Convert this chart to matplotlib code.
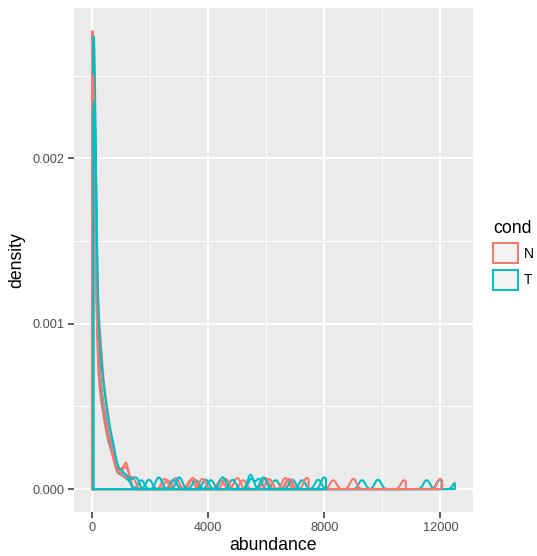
import numpy as np
import matplotlib.pyplot as plt
from matplotlib.patches import Patch

plt.rcParams['font.family'] = ['Liberation Sans', 'DejaVu Sans']

# abundance bins for the bulk of each sample and how many observations fall in each
N_bins = [0, 15, 35, 70, 110, 150, 190, 230, 270, 310, 350, 400, 450, 500, 550, 600, 660, 720, 790, 860, 940, 1020, 1120, 1250]
T_bins = [40, 55, 75, 110, 150, 190, 230, 270, 310, 350, 390, 440, 490, 540, 590, 640, 700, 760, 830, 900, 980, 1060, 1160, 1280]

N1_count = [53, 12, 8, 4, 4, 4, 4, 4, 3, 3, 3, 3, 3, 2, 2, 2, 2, 2, 1, 1, 1, 1, 1, 1]
N2_count = [17, 10, 8, 6, 6, 5, 5, 5, 4, 4, 4, 3, 3, 3, 3, 2, 2, 2, 1, 1, 1, 1, 1, 1]
N3_count = [36, 12, 8, 4, 4, 4, 4, 4, 3, 3, 3, 3, 3, 2, 2, 2, 2, 2, 1, 1, 1, 1, 1, 1]
T1_count = [52, 12, 8, 4, 4, 4, 4, 4, 3, 3, 3, 3, 3, 2, 2, 2, 2, 2, 1, 1, 1, 1, 1, 1]
T2_count = [42, 12, 8, 4, 4, 4, 4, 4, 3, 3, 3, 3, 3, 2, 2, 2, 2, 2, 1, 1, 1, 1, 1, 1]
T3_count = [24, 12, 8, 4, 4, 4, 4, 4, 3, 3, 3, 3, 3, 2, 2, 2, 2, 2, 1, 1, 1, 1, 1, 1]

# sparse high-abundance observations
N1_tail = [1150, 1150, 1200, 2540, 2660, 3340, 3460, 4370, 4490, 5140, 5260, 6700, 6820, 8250, 8370, 10690, 10810]
N2_tail = [1100, 1250, 2820, 2940, 3410, 3530, 4940, 5060, 5910, 6030, 6600, 6720, 7340, 7460]
N3_tail = [1340, 1460, 2440, 2560, 3740, 3860, 4540, 4660, 6040, 6160, 6740, 6860, 8940, 9060, 11940, 12060]
T1_tail = [1630, 1750, 3510, 3630, 4030, 4150, 5400, 5460, 5530, 6260, 6380, 7180, 7300, 9240, 9360, 11470, 11590, 12500]
T2_tail = [1900, 2020, 2740, 2860, 3850, 3970, 4780, 4900, 5430, 5530, 5700, 5800, 6840, 6960, 7730, 7850, 9790, 9910, 11920, 12040]
T3_tail = [1440, 1560, 2240, 2360, 2940, 3060, 4440, 4560, 5840, 5960, 7940, 8060]

samples = [('N', N_bins, N1_count, N1_tail), ('T', T_bins, T1_count, T1_tail),
           ('N', N_bins, N2_count, N2_tail), ('T', T_bins, T2_count, T2_tail),
           ('N', N_bins, N3_count, N3_tail), ('T', T_bins, T3_count, T3_tail)]
conds = ['N', 'T']
colors = {'N': '#F8766D', 'T': '#00BFC4'}
BW = 80  # kernel bandwidth

def kde(values, bw, npts=1024):
    grid = np.linspace(values.min(), values.max(), npts)
    z = (grid[:, None] - values[None, :]) / bw
    d = np.exp(-0.5 * z**2).sum(axis=1) / (len(values) * bw * np.sqrt(2 * np.pi))
    return grid, d

fig = plt.figure(figsize=(5.37, 5.56), dpi=100)
ax = fig.add_axes([74/537, 1 - 512/556, 399/537, 504/556])
ax.set_facecolor('#EBEBEB')

xmin, xmax, ymax = np.inf, -np.inf, 0
for cond, bins, cnt, tail in samples:
    vals = np.concatenate([np.repeat(np.array(bins, float), cnt), tail])
    gx, gy = kde(vals, BW)
    # closed outline: up the left edge, along the curve, back on the baseline
    px = np.concatenate([[gx[0]], gx, [gx[-1], gx[0]]])
    py = np.concatenate([[0], gy, [0, 0]])
    ax.plot(px, py, color=colors[cond], lw=1.5, solid_joinstyle='round')
    xmin, xmax, ymax = min(xmin, gx[0]), max(xmax, gx[-1]), max(ymax, gy.max())

xr = xmax - xmin
ax.set_xlim(xmin - 0.05 * xr, xmax + 0.05 * xr)
ax.set_ylim(-0.05 * ymax, 1.05 * ymax)

ax.set_xticks([0, 4000, 8000, 12000])
ax.set_yticks([0, 0.001, 0.002])
ax.set_xticks([2000, 6000, 10000], minor=True)
ax.set_yticks([0.0005, 0.0015, 0.0025], minor=True)
ax.set_yticklabels(['0.000', '0.001', '0.002'])
ax.grid(which='major', color='white', lw=1.4)
ax.grid(which='minor', color='white', lw=0.7)
ax.set_axisbelow(True)
for s in ax.spines.values():
    s.set_visible(False)
ax.tick_params(which='major', length=4, width=1.1, color='#333333', labelcolor='#4D4D4D', labelsize=9.2, pad=3)
ax.tick_params(which='minor', length=0)

ax.set_xlabel('abundance', fontsize=12.7, labelpad=2)
ax.set_ylabel('density', fontsize=12.7, labelpad=5)

handles = [Patch(facecolor='#F2F2F2', edgecolor=colors[c], lw=1.4, label=c) for c in conds]
leg = fig.legend(handles=handles, title='cond', loc='upper left', bbox_to_anchor=(493/537, 1 - 220/556),
                 frameon=False, fontsize=10, title_fontsize=12.7, handlelength=1.8, handleheight=1.84,
                 handletextpad=0.4, labelspacing=0.45, borderpad=0, borderaxespad=0, alignment='left')

fig.savefig('out.png', dpi=100)
